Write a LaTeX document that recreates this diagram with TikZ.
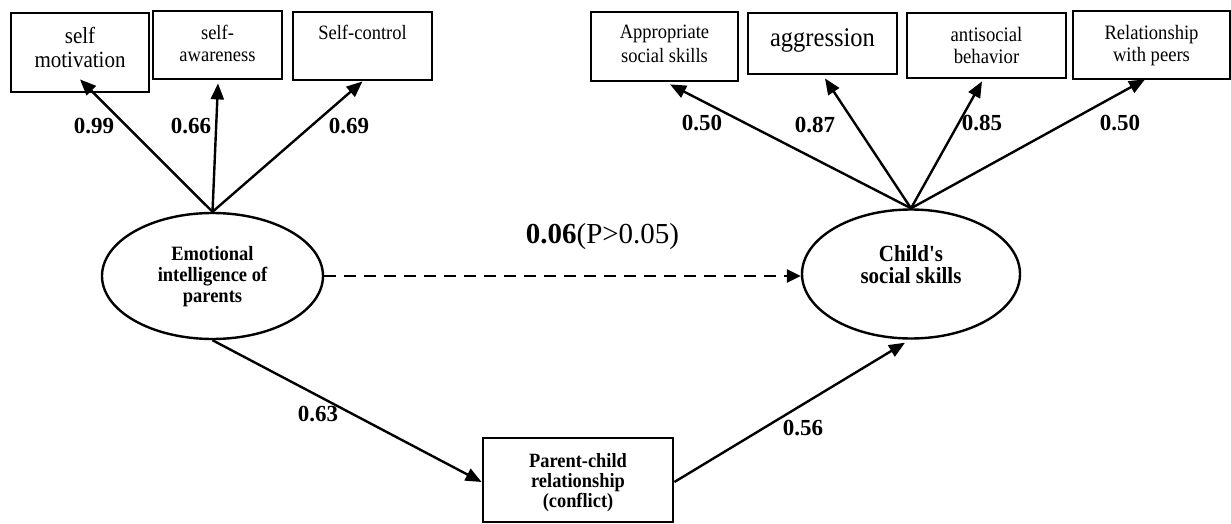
\documentclass[tikz,border=0pt]{standalone}
\usepackage{graphicx}
\usepackage{fontspec}
\setmainfont{Liberation Serif}
\usetikzlibrary{arrows.meta,shapes.geometric,calc}
\tikzset{
  bx/.style={draw, line width=2.8pt, inner sep=0pt, anchor=base},
  lat/.style={draw, ellipse, line width=2.4pt, inner sep=0pt},
  arr/.style={line width=2.4pt, -{Triangle[length=16pt,width=13pt]}},
  darr/.style={line width=2.4pt, dash pattern=on 12pt off 8pt, -{Triangle[length=14pt,width=13pt]}},
  coef/.style={font=\fontsize{23}{26}\selectfont\bfseries, inner sep=0pt},
}
\newcommand{\tl}[1]{\scalebox{1}[1.1]{\begin{tabular}[t]{@{}c@{}}#1\end{tabular}}}
\begin{document}
\begin{tikzpicture}[x=1pt,y=-1pt]
\useasboundingbox (0,0) rectangle (1231,524);
% indicator boxes, left
\node[bx, minimum width=138pt, text height=31pt, text depth=48pt, font=\fontsize{21}{21.8}\selectfont] (sm) at (80,44) {\tl{self\\motivation}};
\node[bx, minimum width=129pt, text height=29pt, text depth=39pt, font=\fontsize{18.5}{19.1}\selectfont] (sa) at (217.5,40) {\tl{self-\\awareness}};
\node[bx, minimum width=139pt, text height=28pt, text depth=40pt, font=\fontsize{18.5}{19.1}\selectfont] (sc) at (362.5,40) {\tl{Self-control}};
% indicator boxes, right
\node[bx, minimum width=147pt, text height=27pt, text depth=42pt, font=\fontsize{18.5}{21.4}\selectfont] (ap) at (664.5,39) {\tl{Appropriate\\social skills}};
\node[bx, minimum width=149pt, text height=34pt, text depth=27pt, font=\fontsize{24.5}{25}\selectfont] (ag) at (822.5,47) {\tl{aggression}};
\node[bx, minimum width=159pt, text height=29pt, text depth=36pt, font=\fontsize{18.7}{19.1}\selectfont] (an) at (986.5,42) {\tl{antisocial\\behavior}};
\node[bx, minimum width=157pt, text height=29pt, text depth=39pt, font=\fontsize{18.6}{19.1}\selectfont] (rp) at (1151.5,40) {\tl{Relationship\\with peers}};
% mediator box
\node[bx, minimum width=190pt, text height=29pt, text depth=55pt, font=\fontsize{18.4}{18.6}\selectfont\bfseries] (pc) at (578,467) {\tl{Parent-child\\relationship\\(conflict)}};
% latent variables
\node[lat, minimum width=221pt, minimum height=126pt, text height=14pt, text depth=46pt, font=\fontsize{18.5}{19.1}\selectfont\bfseries] (ei) at (212.5,276) {\tl{Emotional\\intelligence of\\parents}};
\node[lat, minimum width=218pt, minimum height=129pt, text height=14pt, text depth=40pt, font=\fontsize{21}{20.9}\selectfont\bfseries] (cs) at (911,274) {\tl{Child\textquotesingle s\\social skills}};
% loadings, left
\draw[arr] (ei.north) -- ($(sm.south)+(0,-14)$);
\draw[arr] (ei.north) -- ($(sa.south)+(0.5,3)$);
\draw[arr] (ei.north) -- (sc.south);
% loadings, right
\draw[arr] (cs.north) -- ($(ap.south)+(5.5,2)$);
\draw[arr] (cs.north) -- ($(ag.south)+(2.5,3)$);
\draw[arr] (cs.north) -- ($(an.south)+(-4.5,2)$);
\draw[arr] (cs.north) -- ($(rp.south)+(-6.5,-1)$);
% paths
\draw[darr] (ei.east) -- (ei.east -| cs.west);
\draw[arr] (ei.south) -- ($(pc.west)+(0,2)$);
\draw[arr] ($(pc.east)+(0,2)$) -- ($(cs.south)+(-6,3)$);
% coefficients
\node[coef] (c1) at (94,126) {0.99};
\node[coef] (c2) at (191,126) {0.66};
\node[coef] (c3) at (349,126) {0.69};
\node[coef] (c4) at (702,123) {0.50};
\node[coef] (c5) at (815,125) {0.87};
\node[coef] (c6) at (982,123) {0.85};
\node[coef] (c7) at (1120,123) {0.50};
\node[coef] (c8) at (318,414) {0.63};
\node[coef] (c9) at (803,428) {0.56};
\node[inner sep=0pt, anchor=base, font=\fontsize{29}{32}\selectfont] (c10) at (602.5,243) {\textbf{0.06}(P>0.05)};
\end{tikzpicture}
\end{document}
